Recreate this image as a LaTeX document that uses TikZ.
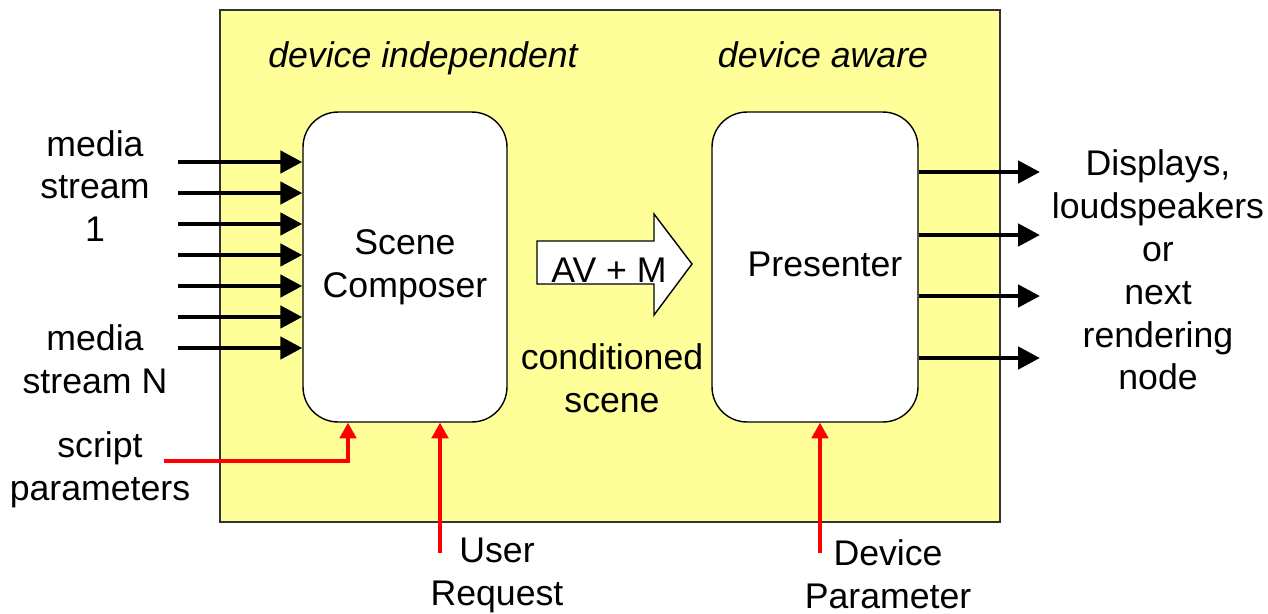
\documentclass[tikz,border=0pt]{standalone}
\usepackage{fontspec}
\setmainfont{Liberation Sans}
\usetikzlibrary{arrows.meta,positioning}

\definecolor{padyellow}{HTML}{FFFF99}

\begin{document}
\begin{tikzpicture}[x=0.02cm, y=-0.02cm,
    every node/.style={font=\fontsize{20.3}{24.4}\selectfont, align=center, inner sep=0pt},
    block/.style={draw, fill=white, rounded corners=0.7cm, line width=0.8pt, minimum width=4.08cm, minimum height=6.2cm},
    feed/.style={line width=2.7pt, -{Triangle[length=12.5pt, width=12.5pt]}},
    ctrl/.style={red, line width=1.9pt, -{Triangle[length=9pt, width=9.5pt]}}]
    \useasboundingbox (0,0) rectangle (1268,613);

    % Background pad
    \draw[fill=padyellow, draw=black!80, line width=0.8pt] (220,10) rectangle (1000,522);

    % Draw nodes
    \node[block] (comp) at (405,267) {Scene\\Composer};
    \node[block, minimum width=4.12cm] (pres) at (815,267) {};
    \node (prestext) at (825,264) {Presenter};

    \node[anchor=base] (indep) at (423,67) {\itshape device independent};
    \node[anchor=base] (aware) at (823,67) {\itshape device aware};

    % Block arrow between the two stages
    \draw[fill=white, line width=0.8pt] (537,241) -- (654,241) -- (654,214) -- (692,264)
        -- (654,315) -- (654,284) -- (537,284) -- cycle;
    \node (av) at (609,270) {AV + M};
    \node (cond) at (612,378) {conditioned\\scene};

    % Labels
    \node (src1) at (95,186) {media\\stream\\1};
    \node (srcN) at (95,359) {media\\stream N};
    \node (sinks) at (1158,270) {Displays,\\loudspeakers\\or\\next\\rendering\\node};
    \node (script) at (100,470) {script\\parameters};
    \node (user) at (497,575) {User\\Request};
    \node (devpar) at (888,574) {Device\\Parameter};

    % Draw connections
    \foreach \i in {0,...,6} {
        \coordinate (in\i) at (178,{162+31*\i});
        \draw[feed] (in\i) -- (in\i -| comp.west);
    }
    \foreach \y [count=\i] in {172,235,296,358} {
        \coordinate (out\i) at (1040,\y);
        \draw[feed] (out\i -| pres.east) -- (out\i);
    }

    \coordinate (scr) at (164,461);
    \coordinate (scrup) at (348,0);
    \coordinate (usr) at (440,553);
    \coordinate (dev) at (820,553);
    \draw[ctrl] (scr) -| (scrup |- comp.south);
    \draw[ctrl] (usr) -- (usr |- comp.south);
    \draw[ctrl] (dev) -- (dev |- pres.south);
\end{tikzpicture}
\end{document}
